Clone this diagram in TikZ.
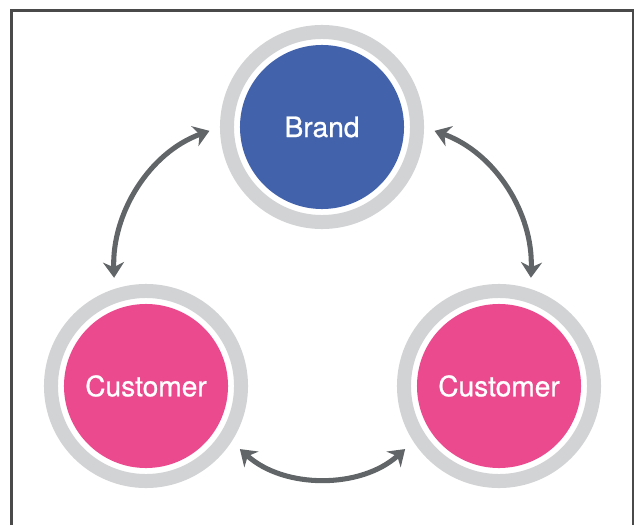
\documentclass[tikz,border=0pt]{standalone}
\usepackage{fontspec}
\setmainfont{TeX Gyre Heros}
\newfontfamily\labelfont[FakeBold=0.8]{TeX Gyre Heros}
\usetikzlibrary{arrows.meta}

\definecolor{brandblue}{HTML}{4263AC}
\definecolor{custpink}{HTML}{EC4A8F}
\definecolor{ringgray}{HTML}{D1D3D4}
\definecolor{linkgray}{HTML}{616567}
\definecolor{framegray}{HTML}{4A4A4A}

\tikzset{
  ring/.style={circle, draw=ringgray, line width=0.35cm, minimum size=4.75cm, inner sep=0pt},
  disc/.style={circle, minimum size=4.1cm, inner sep=0pt, text=white,
    font=\labelfont\fontsize{20}{24}\selectfont},
  link/.style={draw=linkgray, line width=3.6pt,
    {Stealth[length=11pt, width=15pt, inset=3.5pt]}-{Stealth[length=11pt, width=15pt, inset=3.5pt]},
    shorten <=0.28cm, shorten >=0.28cm}
}

\begin{document}
\begin{tikzpicture}[x=0.025cm, y=-0.025cm]
   \useasboundingbox (0,0) rectangle (635,525);

   % frame, open at the bottom
   \draw[framegray, line width=1.5pt] (11.5,525) -- (11.5,10.5) -- (633,10.5) -- (633,525);

   % rings and discs
   \node[ring] (brandring) at (322,127) {};
   \node[ring] (custLring) at (146,386) {};
   \node[ring] (custRring) at (499,386) {};

   \node[disc, fill=brandblue] (brand) at (brandring) {Brand};
   \node[disc, fill=custpink] (custL) at (custLring) {Customer};
   \node[disc, fill=custpink] (custR) at (custRring) {Customer};

   % two-way links
   \draw[link] (brandring.180) to[out=200, in=92] (custLring.108);
   \draw[link] (brandring.0) to[out=-20, in=88] (custRring.72);
   \draw[link] (custLring.-33) to[out=-42, in=222] (custRring.213);

\end{tikzpicture}
\end{document}
